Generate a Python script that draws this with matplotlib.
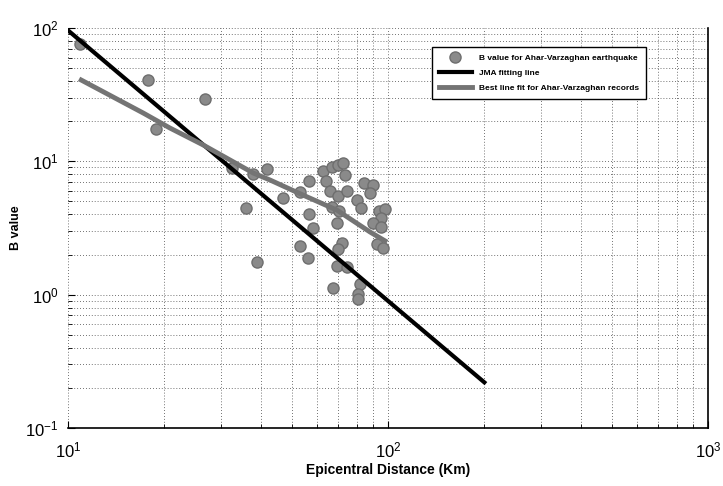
import matplotlib
matplotlib.use("Agg")
import matplotlib.pyplot as plt
from matplotlib.ticker import LogLocator, NullFormatter, FixedLocator

plt.rcParams["font.family"] = ["Liberation Sans", "DejaVu Sans"]
plt.rcParams["mathtext.fontset"] = "custom"
plt.rcParams["mathtext.rm"] = "Liberation Sans"
plt.rcParams["mathtext.it"] = "Liberation Sans"
plt.rcParams["mathtext.bf"] = "Liberation Sans:bold"

# B values (distance km, B value)
dist = [10.9, 17.8, 26.8, 18.8, 32.5, 37.9, 36.0, 39.0, 41.9, 47.0,
        53.1, 56.6, 56.6, 58.3, 53.1, 56.2, 62.6, 66.8, 69.8, 72.3,
        73.4, 64.0, 65.9, 69.8, 74.5, 66.8, 70.3, 69.2, 71.8, 69.8,
        69.2, 74.5, 67.3, 81.8, 80.6, 80.6, 84.1, 89.8, 87.9, 80.0,
        82.3, 93.7, 97.9, 95.1, 89.8, 95.1, 92.4, 96.5]
bval = [75.9, 40.7, 29.3, 17.5, 8.9, 8.0, 4.47, 1.76, 8.76, 5.31,
        5.89, 7.12, 4.03, 3.16, 2.32, 1.88, 8.46, 9.07, 9.39, 9.72,
        7.9, 7.12, 5.99, 5.5, 5.99, 4.55, 4.24, 3.45, 2.44, 2.2,
        1.64, 1.61, 1.12, 1.2, 1.01, 0.93, 6.88, 6.65, 5.79, 5.13,
        4.47, 4.24, 4.39, 3.76, 3.45, 3.22, 2.4, 2.24]

# JMA fitting line
jma_dist = [10, 200]
jma_b = [96, 0.22]

# best line fit for the records
fit_dist = [11.0, 17.2, 20.8, 26.4, 37.9, 42.8, 54.2, 69.2, 87.9, 97.9]
fit_b = [40.7, 23.0, 17.8, 13.3, 8.18, 7.24, 5.59, 4.31, 2.95, 2.53]

labels = ["B value for Ahar-Varzaghan earthquake",
          "JMA fitting line",
          "Best line fit for Ahar-Varzaghan records"]

fig = plt.figure(figsize=(7.23, 4.86), dpi=100)
ax = fig.add_axes([68 / 723, 58 / 486, 640 / 723, 400 / 486])

ax.plot(dist, bval, "o", color="#8a8a8a", markeredgecolor="#6e6e6e",
        markersize=8, label=labels[0], zorder=3)
ax.plot(jma_dist, jma_b, "-", color="black", lw=3, label=labels[1], zorder=4)
ax.plot(fit_dist, fit_b, "-", color="#747474", lw=3.5, label=labels[2], zorder=4)

ax.set_xscale("log")
ax.set_yscale("log")
ax.set_xlim(10, 1000)
ax.set_ylim(0.1, 100)

ax.xaxis.set_major_locator(FixedLocator([10, 100, 1000]))
ax.yaxis.set_major_locator(FixedLocator([0.1, 1, 10, 100]))
ax.xaxis.set_minor_locator(LogLocator(base=10, subs=range(2, 10)))
ax.yaxis.set_minor_locator(LogLocator(base=10, subs=range(2, 10)))
ax.xaxis.set_minor_formatter(NullFormatter())
ax.yaxis.set_minor_formatter(NullFormatter())
ax.set_xticklabels(["$10^{1}$", "$10^{2}$", "$10^{3}$"])
ax.set_yticklabels(["$10^{-1}$", "$10^{0}$", "$10^{1}$", "$10^{2}$"])
ax.tick_params(which="both", direction="in", labelsize=12, top=False, right=False)
ax.tick_params(which="major", length=5)
ax.tick_params(axis="x", which="major", pad=9)
ax.tick_params(axis="y", which="major", pad=7)
ax.tick_params(which="minor", length=3)

ax.grid(True, which="both", linestyle=(0, (1, 2.5)), color="#444444", lw=0.6)
ax.set_axisbelow(True)
for side in ["top", "left"]:
    ax.spines[side].set_visible(False)
for side in ["bottom", "right"]:
    ax.spines[side].set_linewidth(1.2)

ax.set_xlabel("Epicentral Distance (Km)", fontsize=10, fontweight="bold", labelpad=2)
ax.set_ylabel("B value", fontsize=9, fontweight="bold")
ax.yaxis.set_label_coords(-0.072, 0.5)

leg = ax.legend(loc="upper right", bbox_to_anchor=(0.909, 0.9625),
                prop={"size": 6, "weight": "bold"}, handlelength=4,
                labelspacing=0.9, borderpad=0.8, fancybox=False,
                framealpha=1, edgecolor="black")
leg.get_frame().set_linewidth(1.0)

fig.savefig("out.png", dpi=100)
